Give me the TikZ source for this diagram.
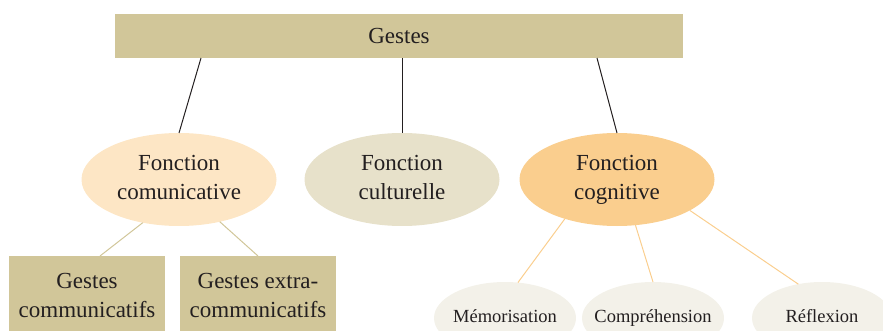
\documentclass[tikz,border=0pt]{standalone}
\usepackage{fontspec}
\setmainfont{Liberation Serif}
\usepackage{tikz}
\usetikzlibrary{positioning}
\usepgflibrary{shapes.geometric}

\definecolor{sable}{RGB}{209,198,153}
\definecolor{peche}{RGB}{253,230,197}
\definecolor{lin}{RGB}{231,225,202}
\definecolor{abricot}{RGB}{250,206,142}
\definecolor{creme}{RGB}{243,241,233}
\definecolor{encre}{RGB}{35,31,32}

\begin{document}
\begin{tikzpicture}[
      cadre/.style ={rectangle, fill=sable, text=encre, inner sep=0pt, outer sep=0pt, align=center,
                     font=\fontsize{23}{29}\selectfont},
      bulle/.style ={ellipse, text=encre, inner sep=0pt, outer sep=0pt, align=center,
                     minimum width=195pt, minimum height=93pt, font=\fontsize{23}{29}\selectfont},
      petite/.style={ellipse, fill=creme, text=encre, inner xsep=-25pt, inner ysep=0pt, outer sep=0pt,
                     minimum height=72pt, font=\fontsize{18.5}{22}\selectfont},
      trait/.style ={draw=encre, line width=1pt},
      node distance=30pt
    ]
    \clip (0pt,0pt) rectangle (883pt,-331pt) ;
    \node [cadre, minimum width=568pt, minimum height=44pt] (gestes) at (399pt,-36pt) {Gestes} ;
    \node [bulle, fill=lin] (culture) [below=75pt of gestes, xshift=3pt] {\strut Fonction\\culturelle\strut} ;
    \node [bulle, fill=peche] (comm) [left=28pt of culture] {\strut Fonction\\comunicative\strut} ;
    \node [bulle, fill=abricot] (cogn) [right=20pt of culture] {\strut Fonction\\cognitive\strut} ;

    \node [cadre, minimum width=156pt, minimum height=78pt] (gcomm) [below=30pt of comm, xshift=-92pt] {Gestes\\communicatifs} ;
    \node [cadre, minimum width=156pt, minimum height=78pt] (gextra) [right=15pt of gcomm] {Gestes extra-\\communicatifs} ;

    \node [petite, minimum width=142pt] (memo) [below=56pt of cogn, xshift=-112pt] {\strut Mémorisation} ;
    \node [petite, minimum width=142pt] (compr) [right=6pt of memo] {\strut Compréhension} ;
    \node [petite, minimum width=140pt] (refl) [right=28pt of compr] {\strut Réflexion} ;

    \draw [trait] ([xshift=-198pt]gestes.south) -- (comm.north) ;
    \draw [trait] (culture.north) -- (culture.north |- gestes.south) ;
    \draw [trait] ([xshift=198pt]gestes.south) -- (cogn.north) ;
    \draw [trait, draw=sable] (comm.230) -- ([xshift=13pt]gcomm.north) ;
    \draw [trait, draw=sable] (comm.314) -- (gextra.north) ;
    \draw [trait, draw=abricot] (cogn.217) -- (memo.70) ;
    \draw [trait, draw=abricot] (cogn.292) -- (compr.north) ;
    \draw [trait, draw=abricot] (cogn.337) -- (refl.125) ;
  \end{tikzpicture}
\end{document}
